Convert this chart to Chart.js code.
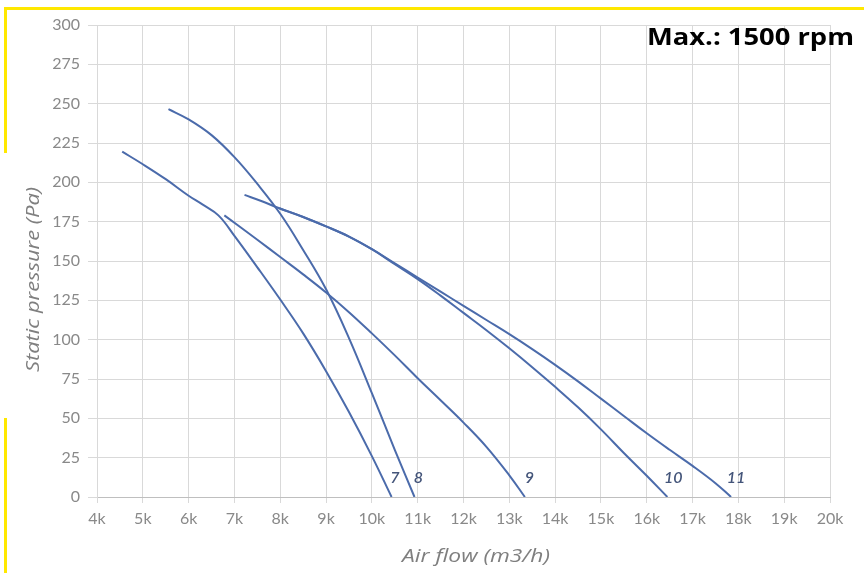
<!DOCTYPE html>
<html><head><meta charset="utf-8">
<script src="https://cdn.jsdelivr.net/npm/chart.js@4"></script>
<style>html,body{margin:0;padding:0;background:#fff;overflow:hidden}</style>
</head><body>
<canvas id="c" width="864" height="573"></canvas>
<script>
// ---- data ----
const curve7Flow      = [4550,5000,5500,6000,6300,6650,7000,7500,8000,8500,9000,9500,10000,10430];
const curve7Pressure  = [219.5,211.5,202,191.5,186,179,166,146,125.5,104,80,54,26,0];
const curve8Flow      = [5560,6000,6500,7000,7500,8000,8500,9000,9500,10000,10500,10930];
const curve8Pressure  = [246.5,240,230,216,199,180,157,132,101,66,30,0];
const curve9Flow      = [6780,7500,8000,8500,9000,9500,10000,10500,11000,11500,12000,12500,13000,13340];
const curve9Pressure  = [179,163.5,152.5,141.5,130,117.5,104,90,75.5,61.5,47.3,31.9,13.8,0];
const curve10Flow     = [7980,8500,9000,9500,10000,10500,11000,11500,12000,12500,13000,13500,14000,14500,15000,15500,16000,16450];
const curve10Pressure = [183.5,178,172,165.5,157.5,148,138.5,128,117,106,94.5,82.5,70,57,43,28,13.5,0];
const curve11Flow     = [7220,7600,7980,8500,9000,9500,10000,10500,11000,11500,12000,12500,13000,13500,14000,14500,15000,15500,16000,16500,17000,17500,17840];
const curve11Pressure = [192,188,183.5,178,172,165.5,157.5,148.5,139.5,130.5,121.5,112.5,103.5,94,84,73.5,62.5,51.5,40.5,30,19.8,8.8,0];

const curveNames     = ['7','8','9','10','11'];
const labelFlow      = [10505,11013,13437,16580,17948];
const labelPressure  = [11.9,11.9,11.9,11.9,11.9];

const xMin = 4000, xMax = 20000, xStep = 1000;
const yMin = 0, yMax = 300, yStep = 25;
const titleText = 'Max.: 1500 rpm';
const xTitle = 'Air flow (m3/h)';
const yTitle = 'Static pressure (Pa)';

// ---- build ----
const flows = [curve7Flow, curve8Flow, curve9Flow, curve10Flow, curve11Flow];
const pressures = [curve7Pressure, curve8Pressure, curve9Pressure, curve10Pressure, curve11Pressure];
const LINE = '#4b6bab';
const datasets = flows.map((f, i) => ({
  label: curveNames[i],
  data: f.map((x, j) => ({x, y: pressures[i][j]})),
  borderColor: LINE,
  borderWidth: 2,
  pointRadius: 0,
  fill: false,
  cubicInterpolationMode: 'default',
  tension: 0.4
}));

function stretchText(ctx, text, x, y, font, color, targetWidth, rot) {
  ctx.save();
  ctx.font = font;
  const w = ctx.measureText(text).width;
  const s = targetWidth ? targetWidth / w : 1;
  ctx.translate(x, y);
  if (rot) ctx.rotate(rot);
  ctx.scale(s, 1);
  ctx.fillStyle = color;
  ctx.textAlign = 'center';
  ctx.textBaseline = 'alphabetic';
  ctx.fillText(text, 0, 0);
  ctx.restore();
}

const decor = {
  id: 'decor',
  beforeDraw(chart) {
    const ctx = chart.ctx;
    ctx.save();
    ctx.fillStyle = '#ffffff';
    ctx.fillRect(0, 0, chart.width, chart.height);
    ctx.fillStyle = '#ffe800';
    ctx.fillRect(4, 7, 860, 3);
    ctx.fillRect(4, 7, 3, 146);
    ctx.fillRect(4, 418, 3, 155);
    ctx.restore();
  },
  afterDatasetsDraw(chart) {
    const ctx = chart.ctx;
    const xs = chart.scales.x, ys = chart.scales.y;
    ctx.save();
    ctx.font = 'italic 600 16px Lato';
    ctx.fillStyle = '#44557a';
    ctx.textAlign = 'center';
    ctx.textBaseline = 'middle';
    curveNames.forEach((n, i) => {
      ctx.fillText(n, xs.getPixelForValue(labelFlow[i]), ys.getPixelForValue(labelPressure[i]));
    });
    ctx.restore();
  },
  afterDraw(chart) {
    const ctx = chart.ctx;
    stretchText(ctx, titleText, 750.5, 45, 'bold 23px "Open Sans"', '#000000', 207, 0);
    stretchText(ctx, xTitle, 476, 562, 'italic 19px "Open Sans"', '#7f7f7f', 148, 0);
    stretchText(ctx, yTitle, 39, 279.5, 'italic 19px "Open Sans"', '#7f7f7f', 185, -Math.PI / 2);
  }
};

new Chart(document.getElementById('c'), {
  type: 'line',
  data: { datasets },
  options: {
    responsive: false,
    animation: false,
    devicePixelRatio: 1,
    layout: { padding: { left: 0, top: 25, right: 34, bottom: 0 } },
    plugins: { legend: { display: false }, tooltip: { enabled: false }, title: { display: false } },
    scales: {
      x: {
        type: 'linear', min: xMin, max: xMax,
        afterFit: s => { s.height = 76; },
        ticks: { stepSize: xStep, color: '#898989', font: { family: 'Lato', size: 16 }, padding: 6,
                 callback: v => (v / 1000) + 'k', maxRotation: 0, autoSkip: false },
        grid: { color: '#d9d9d9', lineWidth: 1, tickLength: 6, tickColor: '#d9d9d9' },
        border: { display: true, color: '#bfbfbf', width: 1 }
      },
      y: {
        type: 'linear', min: yMin, max: yMax,
        afterFit: s => { s.width = 97; },
        ticks: { stepSize: yStep, color: '#898989', font: { family: 'Lato', size: 16 }, padding: 8, autoSkip: false },
        grid: { color: '#d9d9d9', lineWidth: 1, tickLength: 9, tickColor: '#d9d9d9' },
        border: { display: true, color: '#d9d9d9', width: 1 }
      }
    }
  },
  plugins: [decor]
});
</script>
</body></html>
